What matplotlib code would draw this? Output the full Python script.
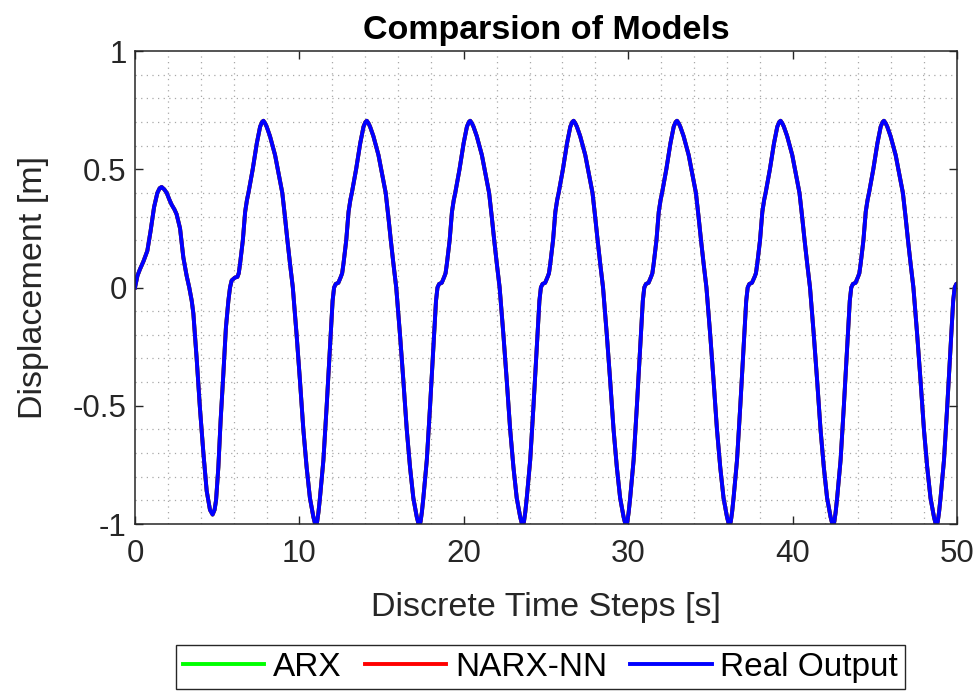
import numpy as np
import matplotlib
matplotlib.use('Agg')
import matplotlib.pyplot as plt
from matplotlib.ticker import MultipleLocator

plt.rcParams['font.family'] = ['Liberation Sans', 'DejaVu Sans']
plt.rcParams['axes.unicode_minus'] = False

# Start-up part of the response, up to the first plateau
t_start = [0.0, 0.15, 0.30, 0.51, 0.75, 0.95, 1.16, 1.36, 1.50, 1.62, 1.78, 1.93,
           2.10, 2.23, 2.40, 2.53, 2.74, 2.94, 3.14, 3.30, 3.45, 3.55, 3.75, 3.95,
           4.16, 4.36, 4.56, 4.72, 4.84, 4.93, 5.07, 5.21, 5.37, 5.53, 5.68, 5.78,
           5.88, 6.08]
y_start = [0.0, 0.05, 0.077, 0.11, 0.155, 0.24, 0.34, 0.40, 0.42, 0.425, 0.415, 0.40,
           0.37, 0.35, 0.33, 0.31, 0.25, 0.127, 0.05, 0.0, -0.056, -0.11, -0.30, -0.51,
           -0.70, -0.86, -0.94, -0.96, -0.94, -0.90, -0.76, -0.56, -0.37, -0.17, -0.056, 0.0,
           0.03, 0.042]

# One steady cycle (time relative to the peak) -- every cycle looks the same
ciclo_dt = [-1.58, -1.50, -1.42, -1.25, -1.11, -1.00, -0.91, -0.65, -0.40, -0.20, -0.08,
            0.00, 0.10, 0.20, 0.40, 0.71, 0.90, 1.01, 1.15, 1.31, 1.46, 1.62, 1.79,
            2.02, 2.22, 2.43, 2.63, 2.83, 3.04, 3.13, 3.20, 3.27, 3.35, 3.44, 3.65,
            3.85, 4.05, 4.21, 4.30, 4.40, 4.56]
ciclo_y = [0.045, 0.06, 0.10, 0.20, 0.32, 0.37, 0.40, 0.50, 0.61, 0.68, 0.70,
           0.705, 0.695, 0.68, 0.64, 0.56, 0.49, 0.45, 0.40, 0.30, 0.20, 0.10, 0.00,
           -0.20, -0.39, -0.60, -0.76, -0.89, -0.97, -0.995, -1.005, -0.99, -0.95, -0.89, -0.73,
           -0.50, -0.25, -0.056, 0.0, 0.015, 0.02]

# Peak times
picos = [7.81, 14.10, 20.39, 26.68, 32.97, 39.27, 45.56]

# Montar a serie completa
t = list(t_start)
y = list(y_start)
for p in picos:
    t += [p + d for d in ciclo_dt]
    y += ciclo_y
t = np.array(t)
y = np.array(y)

# ARX and NARX-NN fit the real output, they lie under the blue line
y_arx = y
y_narx = y

fig = plt.figure(figsize=(9.79, 6.97), dpi=100)
ax = fig.add_axes([0.1379, 0.2482, 0.8396, 0.6786])

ax.plot(t, y_arx, color=(0, 1, 0), linewidth=2.8, label='ARX')
ax.plot(t, y_narx, color=(1, 0, 0), linewidth=2.8, label='NARX-NN')
ax.plot(t, y, color=(0, 0, 1), linewidth=2.8, label='Real Output')

ax.set_xlim(0, 50)
ax.set_ylim(-1, 1)
ax.set_xticks([0, 10, 20, 30, 40, 50])
ax.set_xticklabels(['0', '10', '20', '30', '40', '50'])
ax.set_yticks([-1, -0.5, 0, 0.5, 1])
ax.set_yticklabels(['-1', '-0.5', '0', '0.5', '1'])
ax.xaxis.set_minor_locator(MultipleLocator(2))
ax.yaxis.set_minor_locator(MultipleLocator(0.1))

# grid minor only (dotted)
ax.grid(False, which='major')
ax.grid(True, which='minor', linestyle=(0, (1, 3.5)), color='#a8a8a8', linewidth=0.9)
ax.set_axisbelow(True)

ax.tick_params(which='major', direction='in', length=6, width=1, top=True, right=True,
               labelsize=22.5, colors='#262626')
ax.tick_params(axis='x', which='major', pad=11)
ax.tick_params(axis='y', which='major', pad=6)
ax.tick_params(which='minor', length=0)
for s in ax.spines.values():
    s.set_color('#262626')
    s.set_linewidth(1.1)

ax.set_xlabel('Discrete Time Steps [s]', fontsize=24.5, color='#262626', labelpad=16)
ax.set_ylabel('Displacement [m]', fontsize=24.5, color='#262626', labelpad=17)
ax.set_title('Comparsion of Models', fontsize=24.5, fontweight='bold', pad=9)

ax.legend(loc='center', bbox_to_anchor=(0.552, 0.043), bbox_transform=fig.transFigure,
          ncol=3, fontsize=24, frameon=True, fancybox=False, edgecolor='#262626',
          framealpha=1, handlelength=2.45, handletextpad=0.25, columnspacing=0.7,
          borderpad=0.2, borderaxespad=0)

fig.savefig('out.png', dpi=100)
